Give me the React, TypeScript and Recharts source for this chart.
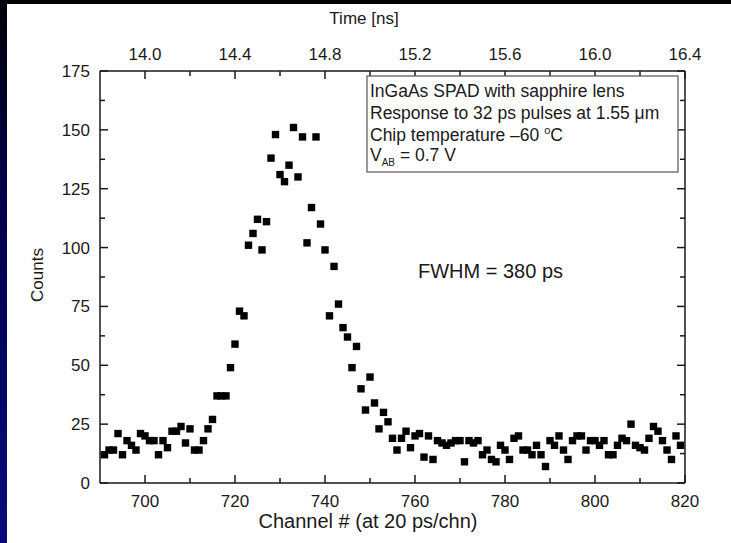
import { ScatterChart, Scatter, XAxis, YAxis } from "recharts"

// channel numbers (20 ps per channel)
const channels = [
  691, 692, 693, 694, 695, 696, 697, 698, 699, 700,
  701, 702, 703, 704, 705, 706, 707, 708, 709, 710,
  711, 712, 713, 714, 715, 716, 717, 718, 719, 720,
  721, 722, 723, 724, 725, 726, 727, 728, 729, 730,
  731, 732, 733, 734, 735, 736, 737, 738, 739, 740,
  741, 742, 743, 744, 745, 746, 747, 748, 749, 750,
  751, 752, 753, 754, 755, 756, 757, 758, 759, 760,
  761, 762, 763, 764, 765, 766, 767, 768, 769, 770,
  771, 772, 773, 774, 775, 776, 777, 778, 779, 780,
  781, 782, 783, 784, 785, 786, 787, 788, 789, 790,
  791, 792, 793, 794, 795, 796, 797, 798, 799, 800,
  801, 802, 803, 804, 805, 806, 807, 808, 809, 810,
  811, 812, 813, 814, 815, 816, 817, 818, 819,
]

const counts = [
  12, 14, 14, 21, 12, 18, 16, 14, 21, 20,
  18, 18, 12, 18, 15, 22, 22, 24, 17, 23,
  14, 14, 18, 23, 27, 37, 37, 37, 49, 59,
  73, 71, 101, 106, 112, 99, 111, 138, 148, 131,
  128, 135, 151, 130, 147, 102, 117, 147, 110, 99,
  71, 92, 76, 66, 62, 49, 58, 40, 31, 45,
  34, 23, 30, 26, 19, 14, 19, 22, 15, 20,
  21, 11, 20, 10, 18, 17, 16, 17, 18, 18,
  9, 18, 17, 18, 12, 14, 10, 9, 16, 14,
  10, 19, 20, 14, 14, 12, 16, 12, 7, 18,
  16, 20, 14, 10, 18, 20, 20, 14, 18, 18,
  16, 18, 12, 12, 16, 19, 18, 25, 16, 15,
  14, 19, 24, 22, 18, 14, 10, 20, 16,
]

const channelMajor = [700, 720, 740, 760, 780, 800, 820]
const channelMinor = [710, 730, 750, 770, 790, 810]
// top axis: time in ns at the same positions as channelMajor
const timeLabels = ["14.0", "14.4", "14.8", "15.2", "15.6", "16.0", "16.4"]
const countMajor = [0, 25, 50, 75, 100, 125, 150, 175]
const countMinor = [12.5, 37.5, 62.5, 87.5, 112.5, 137.5, 162.5]

const data = channels.map((ch, i) => ({ ch, counts: counts[i] }))

const FONT = '"Liberation Sans", Arial, sans-serif'
const INK = "#1a1a1a"
const TICK_FS = 17

const isMajor = (v: number, majors: number[]) => majors.some((m) => Math.abs(m - v) < 1e-6)

function makeTick(side: "bottom" | "top" | "left" | "right", majors: number[], fmt: (v: number) => string) {
  return (props: any) => {
    const { x, y, payload } = props
    const v = payload.value
    const major = isMajor(v, majors)
    const len = major ? 8 : 5
    let line
    let label = null
    if (side === "bottom") {
      line = <line x1={x} y1={y} x2={x} y2={y - len} stroke={INK} strokeWidth={1.5} />
      if (major) label = <text x={x} y={y + 24} textAnchor="middle" fontSize={TICK_FS} fill={INK} fontFamily={FONT}>{fmt(v)}</text>
    } else if (side === "top") {
      line = <line x1={x} y1={y} x2={x} y2={y + len} stroke={INK} strokeWidth={1.5} />
      if (major) label = <text x={x} y={y - 11} textAnchor="middle" fontSize={TICK_FS} fill={INK} fontFamily={FONT}>{fmt(v)}</text>
    } else if (side === "left") {
      line = <line x1={x} y1={y} x2={x + len} y2={y} stroke={INK} strokeWidth={1.5} />
      if (major) label = <text x={x - 10} y={y + 6} textAnchor="end" fontSize={TICK_FS} fill={INK} fontFamily={FONT}>{fmt(v)}</text>
    } else {
      line = <line x1={x} y1={y} x2={x - len} y2={y} stroke={INK} strokeWidth={1.5} />
    }
    return (
      <g>
        {line}
        {label}
      </g>
    )
  }
}

const Square = (props: any) => {
  const { cx, cy } = props
  return <rect x={cx - 3.7} y={cy - 3.7} width={7.4} height={7.4} fill="#000" />
}

const NoMark = () => <g />

const axisLine = { stroke: INK, strokeWidth: 1.5 }

export default function App() {
  return (
    <div style={{ position: "absolute", left: 0, top: 0, width: 731, height: 543, background: "#fff", overflow: "hidden" }}>
      <div style={{ position: "absolute", left: 0, top: 0, width: 731, height: 4, background: "#000" }} />
      <div style={{ position: "absolute", left: 0, top: 0, width: 7, height: 543, background: "linear-gradient(to bottom, #000008, #00004a 35%, #0a0a7c)" }} />
      <ScatterChart width={731} height={543} margin={{ top: 41, right: 16, bottom: 30, left: 60 }}>
        <XAxis
          xAxisId="time"
          dataKey="ch"
          orientation="top"
          type="number"
          domain={[690, 820]}
          ticks={[...channelMajor, ...channelMinor]}
          interval={0}
          height={30}
          tickSize={0}
          tickMargin={0}
          tickLine={false}
          axisLine={axisLine}
          tick={makeTick("top", channelMajor, (v) => timeLabels[channelMajor.indexOf(v)])}
        />
        <XAxis
          xAxisId="ch"
          dataKey="ch"
          orientation="bottom"
          type="number"
          domain={[690, 820]}
          ticks={[...channelMajor, ...channelMinor]}
          interval={0}
          height={30}
          tickSize={0}
          tickMargin={0}
          tickLine={false}
          axisLine={axisLine}
          tick={makeTick("bottom", channelMajor, (v) => String(v))}
        />
        <YAxis
          yAxisId="counts"
          dataKey="counts"
          type="number"
          domain={[0, 175]}
          ticks={[...countMajor, ...countMinor]}
          interval={0}
          width={40}
          tickSize={0}
          tickMargin={0}
          tickLine={false}
          axisLine={axisLine}
          tick={makeTick("left", countMajor, (v) => String(v))}
        />
        <YAxis
          yAxisId="right"
          dataKey="counts"
          orientation="right"
          type="number"
          domain={[0, 175]}
          ticks={[...countMajor, ...countMinor]}
          interval={0}
          width={30}
          tickSize={0}
          tickMargin={0}
          tickLine={false}
          axisLine={axisLine}
          tick={makeTick("right", countMajor, (v) => String(v))}
        />
        {/* invisible series so the top (time) axis and right axis are registered */}
        <Scatter data={data} xAxisId="time" yAxisId="right" shape={NoMark} isAnimationActive={false} />
        <Scatter
          data={data}
          xAxisId="ch"
          yAxisId="counts"
          shape={Square}
          isAnimationActive={false}
        />
      </ScatterChart>
      <svg width={731} height={543} style={{ position: "absolute", left: 0, top: 0, pointerEvents: "none" }} fontFamily={FONT} fill={INK}>
        <text x={364} y={24} textAnchor="middle" fontSize={17}>Time [ns]</text>
        <text x={368} y={528} textAnchor="middle" fontSize={20}>Channel # (at 20 ps/chn)</text>
        <text x={43} y={275} textAnchor="middle" fontSize={17} transform="rotate(-90 43 275)">Counts</text>
        <rect x={367} y={76} width={311} height={96} fill="#fff" stroke="#555" strokeWidth={1.2} />
        <text x={370} y={97} fontSize={17.5}>InGaAs SPAD with sapphire lens</text>
        <text x={370} y={119} fontSize={17.5}>Response to 32 ps pulses at 1.55 μm</text>
        <text x={370} y={141} fontSize={17.5}>
          Chip temperature –60 <tspan fontSize={11} dy={-7}>o</tspan><tspan dy={7}>C</tspan>
        </text>
        <text x={370} y={161} fontSize={17.5}>
          V<tspan fontSize={10} dy={5}>AB</tspan><tspan dy={-5}> = 0.7 V</tspan>
        </text>
        <text x={418} y={278} fontSize={20}>FWHM = 380 ps</text>
      </svg>
    </div>
  )
}
